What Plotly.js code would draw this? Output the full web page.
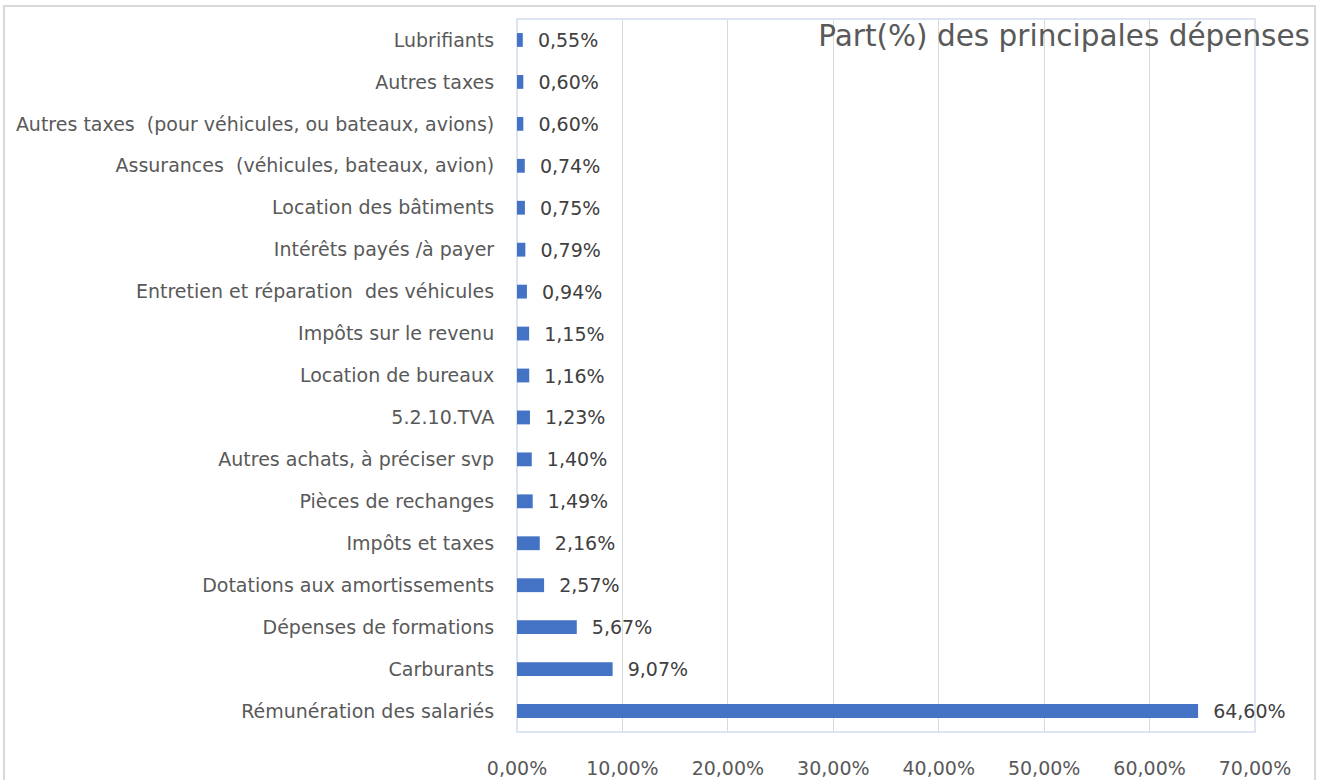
<!DOCTYPE html>
<html><head><meta charset="utf-8">
<script src="https://cdn.plot.ly/plotly-3.0.1.min.js"></script>
<style>
html,body{margin:0;padding:0;background:#fff;}
#chart{width:1321px;height:780px;}
#frame{position:absolute;left:3px;top:5px;width:1313px;height:790px;border:2px solid #d9d9d9;pointer-events:none;box-sizing:border-box;}
</style></head>
<body>
<div id="chart"></div>
<div id="frame"></div>
<script>
var categories = [
  "Lubrifiants",
  "Autres taxes",
  "Autres taxes \u00a0(pour véhicules, ou bateaux, avions)",
  "Assurances \u00a0(véhicules, bateaux, avion)",
  "Location des bâtiments",
  "Intérêts payés /à payer",
  "Entretien et réparation \u00a0des véhicules",
  "Impôts sur le revenu",
  "Location de bureaux",
  "5.2.10.TVA",
  "Autres achats, à préciser svp",
  "Pièces de rechanges",
  "Impôts et taxes",
  "Dotations aux amortissements",
  "Dépenses de formations",
  "Carburants",
  "Rémunération des salariés"
];
var values = [0.55, 0.60, 0.60, 0.74, 0.75, 0.79, 0.94, 1.15, 1.16, 1.23, 1.40, 1.49, 2.16, 2.57, 5.67, 9.07, 64.60];
var tickValues = [0, 10, 20, 30, 40, 50, 60, 70];
var tickLabels = ["0,00%", "10,00%", "20,00%", "30,00%", "40,00%", "50,00%", "60,00%", "70,00%"];
var labels = values.map(function(v){ return "\u00a0\u00a0" + v.toFixed(2).replace(".", ",") + "%"; });

var FONT = "DejaVu Sans, sans-serif";
var trace = {
  type: "bar",
  orientation: "h",
  y: categories,
  x: values,
  text: labels,
  textposition: "outside",
  cliponaxis: false,
  constraintext: "none",
  textfont: {family: FONT, size: 19, color: "#404040"},
  marker: {color: "#4472C4"},
  width: 0.33,
  hoverinfo: "none"
};
var layout = {
  width: 1321, height: 780,
  margin: {l: 517, r: 66, t: 19, b: 48},
  paper_bgcolor: "#ffffff",
  plot_bgcolor: "#ffffff",
  showlegend: false,
  font: {family: FONT, size: 19, color: "#595959"},
  title: {
    text: "Part(%) des principales dépenses",
    xref: "container", yref: "container",
    x: 1310/1321, xanchor: "right",
    y: 1 - 36/780, yanchor: "middle",
    font: {family: FONT, size: 29.5, color: "#595959"}
  },
  xaxis: {
    range: [0, 70],
    tickvals: tickValues,
    ticktext: tickLabels,
    showgrid: true,
    gridcolor: "#d9d9d9",
    gridwidth: 1,
    zeroline: false,
    showline: false,
    ticks: "outside", ticklen: 19, tickcolor: "rgba(0,0,0,0)",
    tickfont: {family: FONT, size: 19, color: "#595959"},
    fixedrange: true
  },
  yaxis: {
    autorange: "reversed",
    showgrid: false,
    zeroline: false,
    showline: false,
    ticks: "outside", ticklen: 18, tickcolor: "rgba(0,0,0,0)",
    tickfont: {family: FONT, size: 19, color: "#595959"},
    fixedrange: true
  },
  shapes: [
    {type: "rect", xref: "paper", yref: "paper", x0: 0, x1: 1, y0: 0, y1: 1,
     line: {color: "#d3ddee", width: 1.5}, fillcolor: "rgba(0,0,0,0)", layer: "below"}
  ]
};
Plotly.newPlot("chart", [trace], layout, {displayModeBar: false, staticPlot: true});
</script>
</body></html>
